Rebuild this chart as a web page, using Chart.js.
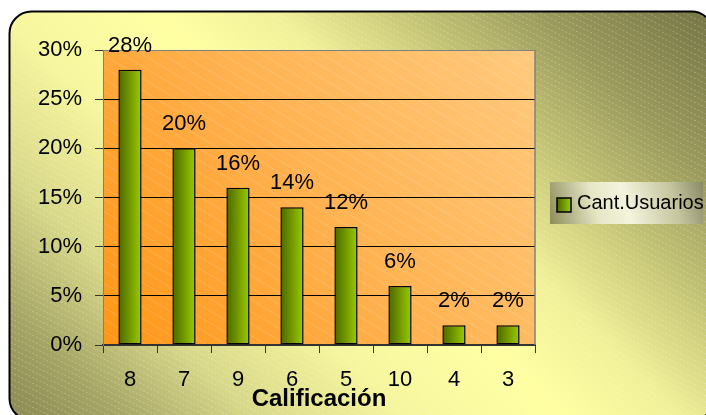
<!DOCTYPE html>
<html>
<head>
<meta charset="utf-8">
<title>Calificación</title>
<script src="https://cdn.jsdelivr.net/npm/chart.js@4.4.0/dist/chart.umd.min.js"></script>
<style>
  html, body { margin: 0; padding: 0; background: #fff; }
  #contenedor { width: 706px; height: 415px; }
</style>
</head>
<body>
<div id="contenedor"><canvas id="barChart" width="706" height="415"></canvas></div>
<script>
/******************************************************/
/*      Grafica de barras: usuarios por calificacion   */
/******************************************************/

var calificaciones = ["8", "7", "9", "6", "5", "10", "4", "3"];
var cantUsuarios = [28, 20, 16, 14, 12, 6, 2, 2];
var etiquetaSerie = "Cant.Usuarios";
var tituloEje = "Calificación";
var ticksEjeY = [0, 5, 10, 15, 20, 25, 30];

var fuente = "'Liberation Sans', Arial, sans-serif";
var anchoBarra = 0.43;

Chart.defaults.color = "#000";
Chart.defaults.font.family = fuente;

// degradado verde de las barras (oscuro a la izquierda, claro a la derecha)
function degradadoBarra(ctx, x0, x1){
    var g = ctx.createLinearGradient(x0, 0, x1, 0);
    g.addColorStop(0, "#4a6800");
    g.addColorStop(0.45, "#6f9400");
    g.addColorStop(1, "#9acd00");
    return g;
}

function cajaRedondeada(ctx, x, y, w, h, r){
    ctx.beginPath();
    ctx.moveTo(x + r, y);
    ctx.arcTo(x + w, y, x + w, y + h, r);
    ctx.arcTo(x + w, y + h, x, y + h, r);
    ctx.arcTo(x, y + h, x, y, r);
    ctx.arcTo(x, y, x + w, y, r);
    ctx.closePath();
}

// lineas diagonales finas sobre un rectangulo (ya recortado por fuera)
function rayado(ctx, x0, y0, x1, y1, paso, pendiente, color, guion){
    ctx.save();
    ctx.strokeStyle = color;
    ctx.lineWidth = 1;
    ctx.setLineDash(guion);
    var alto = (x1 - x0) * pendiente;
    for(var y = y0 - alto; y < y1; y += paso){
        ctx.beginPath();
        ctx.moveTo(x0, y);
        ctx.lineTo(x1, y + alto);
        ctx.stroke();
    }
    ctx.restore();
}

//-------------
//- FONDOS    -
//-------------
var pluginFondo = {
    id: "fondo",
    beforeDraw: function(chart){
        var ctx = chart.ctx;
        var a = chart.chartArea;

        ctx.save();
        ctx.fillStyle = "#fff";
        ctx.fillRect(0, 0, chart.width, chart.height);

        // marco exterior
        cajaRedondeada(ctx, 9.5, 11.5, 704, 409, 22);
        var g = ctx.createLinearGradient(9, 415, 559.5, -135.5);
        g.addColorStop(0, "#8a8a52");
        g.addColorStop(0.1, "#a6a666");
        g.addColorStop(0.22, "#d8d88a");
        g.addColorStop(0.36, "#f6f69e");
        g.addColorStop(0.5, "#ffffa2");
        g.addColorStop(0.61, "#f0f098");
        g.addColorStop(0.72, "#c8c878");
        g.addColorStop(0.85, "#9a9a5c");
        g.addColorStop(1, "#767646");
        ctx.fillStyle = g;
        ctx.fill();
        ctx.save();
        ctx.clip();
        rayado(ctx, 0, 0, chart.width, chart.height, 6, 0.5, "rgba(255,255,255,0.28)", [2, 2]);
        ctx.restore();
        cajaRedondeada(ctx, 9.5, 11.5, 704, 409, 22);
        ctx.lineWidth = 2;
        ctx.strokeStyle = "#000";
        ctx.stroke();

        // area de trazado
        var p = ctx.createLinearGradient(a.left, a.bottom, a.right, a.top);
        p.addColorStop(0, "#ff9616");
        p.addColorStop(0.5, "#ffb250");
        p.addColorStop(1, "#ffca7e");
        ctx.fillStyle = p;
        ctx.fillRect(a.left, a.top, a.right - a.left, a.bottom - a.top);
        ctx.beginPath();
        ctx.rect(a.left, a.top, a.right - a.left, a.bottom - a.top);
        ctx.clip();
        rayado(ctx, a.left, a.top, a.right, a.bottom, 12, 0.6, "rgba(255,255,255,0.16)", []);
        ctx.restore();
    },
    beforeDatasetsDraw: function(chart){
        var ctx = chart.ctx;
        var a = chart.chartArea;
        ctx.save();
        ctx.strokeStyle = "#808080";
        ctx.lineWidth = 1.5;
        ctx.beginPath();
        ctx.moveTo(a.right, a.top);
        ctx.lineTo(a.right, a.bottom);
        ctx.stroke();
        ctx.restore();
    }
};

//-------------------------------
//- ETIQUETAS DE VALOR Y LEYENDA -
//-------------------------------
var pluginEtiquetas = {
    id: "etiquetas",
    afterDatasetsDraw: function(chart){
        var ctx = chart.ctx;
        var meta = chart.getDatasetMeta(0);
        ctx.save();
        ctx.font = "22px " + fuente;
        ctx.fillStyle = "#000";
        ctx.textAlign = "center";
        ctx.textBaseline = "alphabetic";
        for(var i = 0; i < meta.data.length; i++){
            var barra = meta.data[i];
            ctx.fillText(chart.data.datasets[0].data[i] + "%", barra.x, barra.y - 18);
        }
        ctx.restore();
    },
    afterDraw: function(chart){
        var ctx = chart.ctx;
        var x = 550, y = 182, w = 153, h = 42;
        ctx.save();
        var g = ctx.createLinearGradient(x, y + h, x + w, y);
        g.addColorStop(0, "#8c8c5a");
        g.addColorStop(0.3, "#e6e6c6");
        g.addColorStop(0.5, "#f4f4de");
        g.addColorStop(0.8, "#c4c49e");
        g.addColorStop(1, "#8a8a68");
        ctx.fillStyle = g;
        ctx.fillRect(x, y, w, h);

        ctx.fillStyle = degradadoBarra(ctx, 557, 571);
        ctx.fillRect(557, 198, 14, 14);
        ctx.lineWidth = 1.5;
        ctx.strokeStyle = "#000";
        ctx.strokeRect(557, 198, 14, 14);

        ctx.font = "20px " + fuente;
        ctx.fillStyle = "#000";
        ctx.textAlign = "left";
        ctx.textBaseline = "alphabetic";
        ctx.fillText(chart.data.datasets[0].label, 577, 209);
        ctx.restore();
    }
};

//-------------
//- BAR CHART -
//-------------
function dibujarGraficaBarras(){
    var barChartCanvas = document.getElementById("barChart").getContext("2d");

    var barChartData = {
        labels: calificaciones,
        datasets: [
            {
                label: etiquetaSerie,
                data: cantUsuarios,
                backgroundColor: function(c){
                    var chart = c.chart;
                    if(!chart.chartArea || !chart.scales.x){
                        return "#7aa000";
                    }
                    var xs = chart.scales.x;
                    var cx = xs.getPixelForValue(c.dataIndex);
                    var mitad = xs.width / calificaciones.length * anchoBarra / 2;
                    return degradadoBarra(chart.ctx, cx - mitad, cx + mitad);
                },
                borderColor: "#000",
                borderWidth: 1.5,
                borderSkipped: false,
                barPercentage: anchoBarra,
                categoryPercentage: 1
            }
        ]
    };

    var barChartOptions = {
        responsive: false,
        animation: false,
        layout: { padding: { top: 50, right: 171, left: 0, bottom: 0 } },
        plugins: {
            legend: { display: false },
            tooltip: { enabled: false }
        },
        scales: {
            x: {
                afterFit: function(s){ s.height = 70; },
                grid: {
                    drawOnChartArea: false,
                    drawTicks: true,
                    tickLength: 8,
                    tickColor: "#333",
                    offset: true
                },
                border: { color: "#333", width: 2 },
                ticks: {
                    padding: 14,
                    font: { size: 22 },
                    color: "#000"
                },
                title: {
                    display: true,
                    text: tituloEje,
                    font: { size: 24, weight: "bold", lineHeight: 1 },
                    padding: { top: 0, bottom: 4 },
                    color: "#000"
                }
            },
            y: {
                min: ticksEjeY[0],
                max: ticksEjeY[ticksEjeY.length - 1],
                afterFit: function(s){ s.width = 103; },
                grid: {
                    color: function(c){
                        return c.tick && c.tick.value === ticksEjeY[ticksEjeY.length - 1] ? "#808080" : "#000";
                    },
                    lineWidth: 1,
                    tickLength: 8,
                    tickColor: "#333"
                },
                border: { color: "#808080", width: 1 },
                ticks: {
                    stepSize: ticksEjeY[1] - ticksEjeY[0],
                    padding: 13,
                    font: { size: 22 },
                    color: "#000",
                    callback: function(v){ return v + "%"; }
                }
            }
        }
    };

    new Chart(barChartCanvas, {
        type: "bar",
        data: barChartData,
        options: barChartOptions,
        plugins: [pluginFondo, pluginEtiquetas]
    });
}

dibujarGraficaBarras();
</script>
</body>
</html>
